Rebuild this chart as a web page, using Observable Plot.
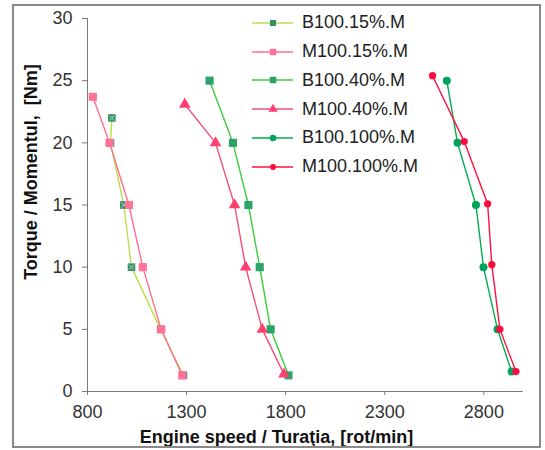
<!DOCTYPE html>
<html><head><meta charset="utf-8">
<script src="https://cdn.jsdelivr.net/npm/d3@7"></script>
<script src="https://cdn.jsdelivr.net/npm/@observablehq/plot@0.6"></script>
<style>
body{margin:0;background:#fff;font-family:"Liberation Sans",Arial,sans-serif;}
#wrap{position:relative;width:545px;height:450px;overflow:hidden}
#border{position:absolute;left:12px;top:4px;width:529px;height:444px;border:2px solid #8a8a8a;box-sizing:border-box;pointer-events:none}
#legend{position:absolute;left:0;top:0;}
.lrow{position:absolute;left:252px;display:flex;align-items:center;height:20px;font-size:18px;color:#222;white-space:nowrap}
.lrow svg{margin-right:8px}
</style></head><body>
<div id="wrap"><div id="chart"></div><div id="legend"></div><div id="border"></div></div>
<script>
// ---- data ----
const seriesNames = ["B100.15%.M", "M100.15%.M", "B100.40%.M", "M100.40%.M", "B100.100%.M", "M100.100%.M"];
const b15Rpm = [923, 916, 983, 1022, 1169, 1284];
const b15Torque = [22, 20, 15, 10, 5, 1.3];
const m15Rpm = [827, 911, 1009, 1079, 1172, 1278];
const m15Torque = [23.7, 20, 15, 10, 5, 1.3];
const b40Rpm = [1416, 1534, 1612, 1669, 1724, 1814];
const b40Torque = [25, 20, 15, 10, 5, 1.3];
const m40Rpm = [1291, 1446, 1542, 1598, 1682, 1791];
const m40Torque = [23.1, 20, 15, 10, 5, 1.4];
const b100Rpm = [2613, 2667, 2760, 2798, 2869, 2940];
const b100Torque = [25, 20, 15, 10, 5, 1.6];
const m100Rpm = [2541, 2701, 2819, 2840, 2881, 2962];
const m100Torque = [25.4, 20.1, 15.1, 10.2, 5, 1.6];
const xTicks = [800, 1300, 1800, 2300, 2800];
const yTicks = [0, 5, 10, 15, 20, 25, 30];
const xLabel = "Engine speed / Turaţia, [rot/min]";
const yLabel = "Torque / Momentul,  [Nm]";

// ---- styles ----
const lineColors = ["#b8e04a", "#ff6f8f", "#3ccc3c", "#f0507a", "#00ad55", "#ff1040"];
const markColors = ["#3a8f6a", "#ff7396", "#2ea26b", "#ff3f6f", "#00a25c", "#ff0a3c"];
const symbols = ["square", "square", "square", "triangle", "circle", "circle"];
const radii = [4.3, 4.6, 4.6, 4.3, 4.0, 3.6];

const rpmArr = [b15Rpm, m15Rpm, b40Rpm, m40Rpm, b100Rpm, m100Rpm];
const torqueArr = [b15Torque, m15Torque, b40Torque, m40Torque, b100Torque, m100Torque];
const tables = seriesNames.map((name, i) => rpmArr[i].map((rpm, j) => ({series: name, rpm, torque: torqueArr[i][j]})));

const marks = [
  Plot.ruleX([800], {stroke: "#7a7a7a", strokeWidth: 1}),
  Plot.ruleY([0], {stroke: "#7a7a7a", strokeWidth: 1}),
  Plot.axisX({ticks: xTicks, tickFormat: d => String(d), tickSize: 4, tickPadding: 10, fontSize: 18, label: null, stroke: "#7a7a7a", color: "#333"}),
  Plot.axisY({ticks: yTicks, tickFormat: d => String(d), tickSize: 5, tickPadding: 10, fontSize: 18, label: null, stroke: "#7a7a7a", color: "#333"}),
  Plot.text([xLabel], {frameAnchor: "bottom", lineAnchor: "middle", textAnchor: "middle", dx: -29, dy: 46, text: d => d, fontSize: 18, fontWeight: "bold", fill: "#111"}),
  Plot.text([yLabel], {frameAnchor: "left", lineAnchor: "middle", textAnchor: "middle", dx: -56, dy: -33, rotate: -90, text: d => d, fontSize: 18, fontWeight: "bold", fill: "#111"})
];
tables.forEach((t, i) => {
  marks.push(Plot.line(t, {x: "rpm", y: "torque", stroke: lineColors[i], strokeWidth: 1.4}));
  marks.push(Plot.dot(t, {x: "rpm", y: "torque", symbol: symbols[i], r: radii[i], fill: markColors[i], stroke: "none"}));
  if (i === 0) marks.push(Plot.dot(t, {x: "rpm", y: "torque", symbol: "times", r: 2.4, stroke: "#a8dcc0", strokeWidth: 1}));
});

const chart = Plot.plot({
  width: 545, height: 450,
  marginLeft: 87, marginRight: 22, marginTop: 18, marginBottom: 59,
  x: {domain: [800, 3000]},
  y: {domain: [0, 30]},
  style: {fontFamily: "'Liberation Sans', Arial, sans-serif", background: "#fff"},
  marks
});
document.getElementById("chart").appendChild(chart);

// ---- legend ----
const leg = d3.select("#legend");
seriesNames.forEach((name, i) => {
  const row = leg.append("div").attr("class", "lrow").style("top", (22.7 + i * 28.8 - 10) + "px");
  const s = row.append("svg").attr("width", 42).attr("height", 12);
  s.append("line").attr("x1", 0).attr("x2", 41).attr("y1", 6).attr("y2", 6).attr("stroke", lineColors[i]).attr("stroke-width", 1.4);
  const sym = d3.symbol(
    {square: d3.symbolSquare, triangle: d3.symbolTriangle, circle: d3.symbolCircle, diamond: d3.symbolDiamond}[symbols[i]],
    Math.PI * (radii[i] * 0.8) ** 2);
  s.append("path").attr("d", sym()).attr("transform", "translate(21,6)").attr("fill", markColors[i]);
  row.append("span").text(name);
});
</script>
</body></html>
